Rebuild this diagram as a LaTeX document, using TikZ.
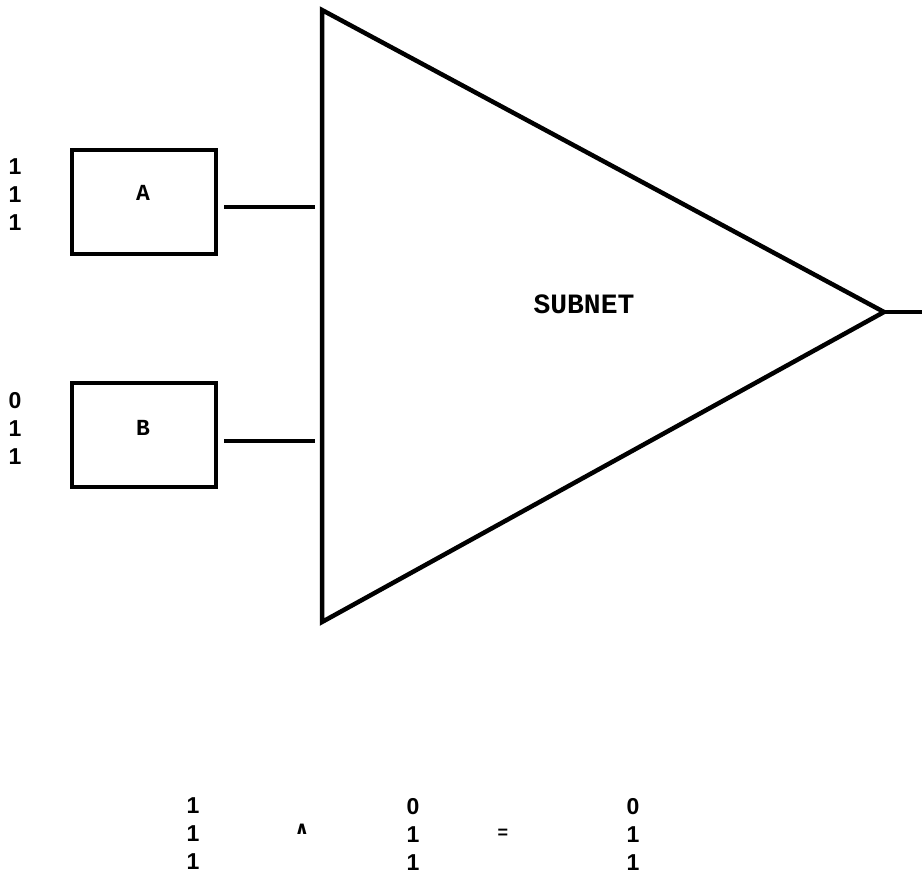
\documentclass[tikz,border=0pt]{standalone}
\usepackage{fontspec}
\setmainfont{Liberation Sans}
\newfontfamily\typefont{Liberation Mono}
\newfontfamily\symfont{DejaVu Sans}
\begin{document}
\begin{tikzpicture}[x=1pt,y=-1pt,
  thick line/.style={line width=4pt},
  box/.style={draw,line width=4pt,minimum width=144pt,minimum height=104pt,inner sep=0pt},
  lbl/.style={font=\typefont\bfseries\fontsize{23}{23}\selectfont,inner sep=0pt},
  digits/.style={font=\bfseries\fontsize{23}{28}\selectfont,align=center,inner sep=0pt},
  opsym/.style={font=\bfseries\fontsize{18}{18}\selectfont,inner sep=0pt}]
\useasboundingbox (0,0) rectangle (922,881);
% triangle
\coordinate (tl) at (322,10);
\coordinate (bl) at (322,622);
\coordinate (apex) at (884,312);
\coordinate (outEnd) at (922,312);
\draw[line width=4.5pt,line join=miter] (tl) -- (apex) -- (bl) -- cycle;
\draw[thick line] (apex) -- (outEnd);
\node[font=\typefont\bfseries\fontsize{28}{28}\selectfont,inner sep=0pt] (subnet) at (584,304) {SUBNET};
% boxes
\node[box] (boxA) at (144,201.5) {};
\node[box] (boxB) at (144,435) {};
\node[lbl] (labA) at (143,193) {A};
\node[lbl] (labB) at (143,428) {B};
\coordinate (inA) at (315,207);
\coordinate (inB) at (315,441);
\draw[thick line] (boxA.east |- inA) ++(6,0) coordinate (stA);
\draw[thick line] (stA) -- (inA);
\draw[thick line] (boxB.east |- inB) ++(6,0) coordinate (stB);
\draw[thick line] (stB) -- (inB);
% input values
\node[digits] (valA) at (15,195) {1\\1\\1};
\node[digits] (valB) at (15,428) {0\\1\\1};
% equation
\node[digits] (eq1) at (193,834) {1\\1\\1};
\node[font=\symfont\bfseries\fontsize{18}{18}\selectfont,inner sep=0pt] (andop) at (302,829) {∧};
\node[digits] (eq2) at (413,834) {0\\1\\1};
\node[opsym] (eqsign) at (503,834) {=};
\node[digits] (eq3) at (633,834) {0\\1\\1};
\end{tikzpicture}
\end{document}
